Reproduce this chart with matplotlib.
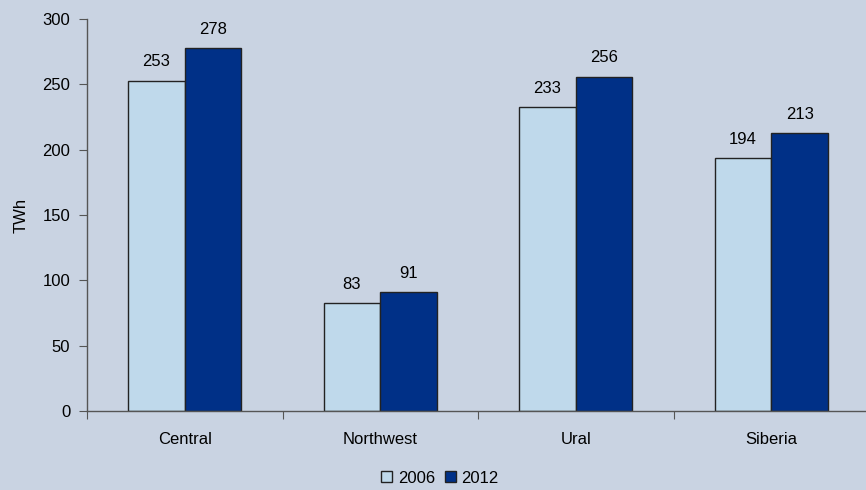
import matplotlib
matplotlib.use('Agg')
from matplotlib import pyplot as plt
from matplotlib.patches import Patch
import numpy as np

regions = ['Central', 'Northwest', 'Ural', 'Siberia']
values_2006 = [253, 83, 233, 194]
values_2012 = [278, 91, 256, 213]
y_ticks = [0, 50, 100, 150, 200, 250, 300]

plt.rcParams['font.family'] = ['Liberation Sans', 'DejaVu Sans']

bg = '#C9D3E2'
light = '#BFD9EB'
dark = '#003087'
axis_col = '#555555'
fs = 12

fig = plt.figure(figsize=(8.66, 4.9), dpi=100, facecolor=bg)
ax = fig.add_axes([0.1005, 0.161, 0.903, 0.8])
ax.set_facecolor(bg)

x = np.arange(len(regions))
w = 0.29
b1 = ax.bar(x - w / 2, values_2006, w, color=light, edgecolor='#222222', linewidth=1.0, label='2006')
b2 = ax.bar(x + w / 2, values_2012, w, color=dark, edgecolor='#222222', linewidth=1.0, label='2012')

for bars, vals in ((b1, values_2006), (b2, values_2012)):
    for bar, v in zip(bars, vals):
        ax.annotate(str(v), (bar.get_x() + bar.get_width() / 2, v),
                    xytext=(0, 8), textcoords='offset points',
                    ha='center', va='bottom', fontsize=fs, color='black')

ax.set_xlim(-0.5, len(regions) - 0.5)
ax.set_ylim(0, 300)
ax.set_yticks(y_ticks)
ax.set_yticklabels([str(t) for t in y_ticks], fontsize=fs)
ax.set_ylabel('TWh', fontsize=fs, labelpad=10)

# categories between boundary ticks
ax.set_xticks(np.arange(len(regions) + 1) - 0.5)
ax.set_xticklabels([])
ax.set_xticks(x, minor=True)
ax.set_xticklabels(regions, minor=True, fontsize=fs)
ax.tick_params(axis='x', which='minor', length=0, pad=15)
ax.tick_params(axis='x', which='major', length=6, color=axis_col, direction='out')
ax.tick_params(axis='y', length=6, color=axis_col, direction='out', pad=6)

for s in ('top', 'right'):
    ax.spines[s].set_visible(False)
for s in ('left', 'bottom'):
    ax.spines[s].set_color(axis_col)
    ax.spines[s].set_linewidth(1.0)

handles = [Patch(facecolor=light, edgecolor='#222222', label='2006'),
           Patch(facecolor=dark, edgecolor='#222222', label='2012')]
fig.legend(handles=handles, loc='lower center', bbox_to_anchor=(0.508, -0.022), ncol=2,
           frameon=False, fontsize=fs, handlelength=0.65, handleheight=0.65,
           handletextpad=0.35, columnspacing=0.6)

fig.savefig('out.png', dpi=100, facecolor=bg)
